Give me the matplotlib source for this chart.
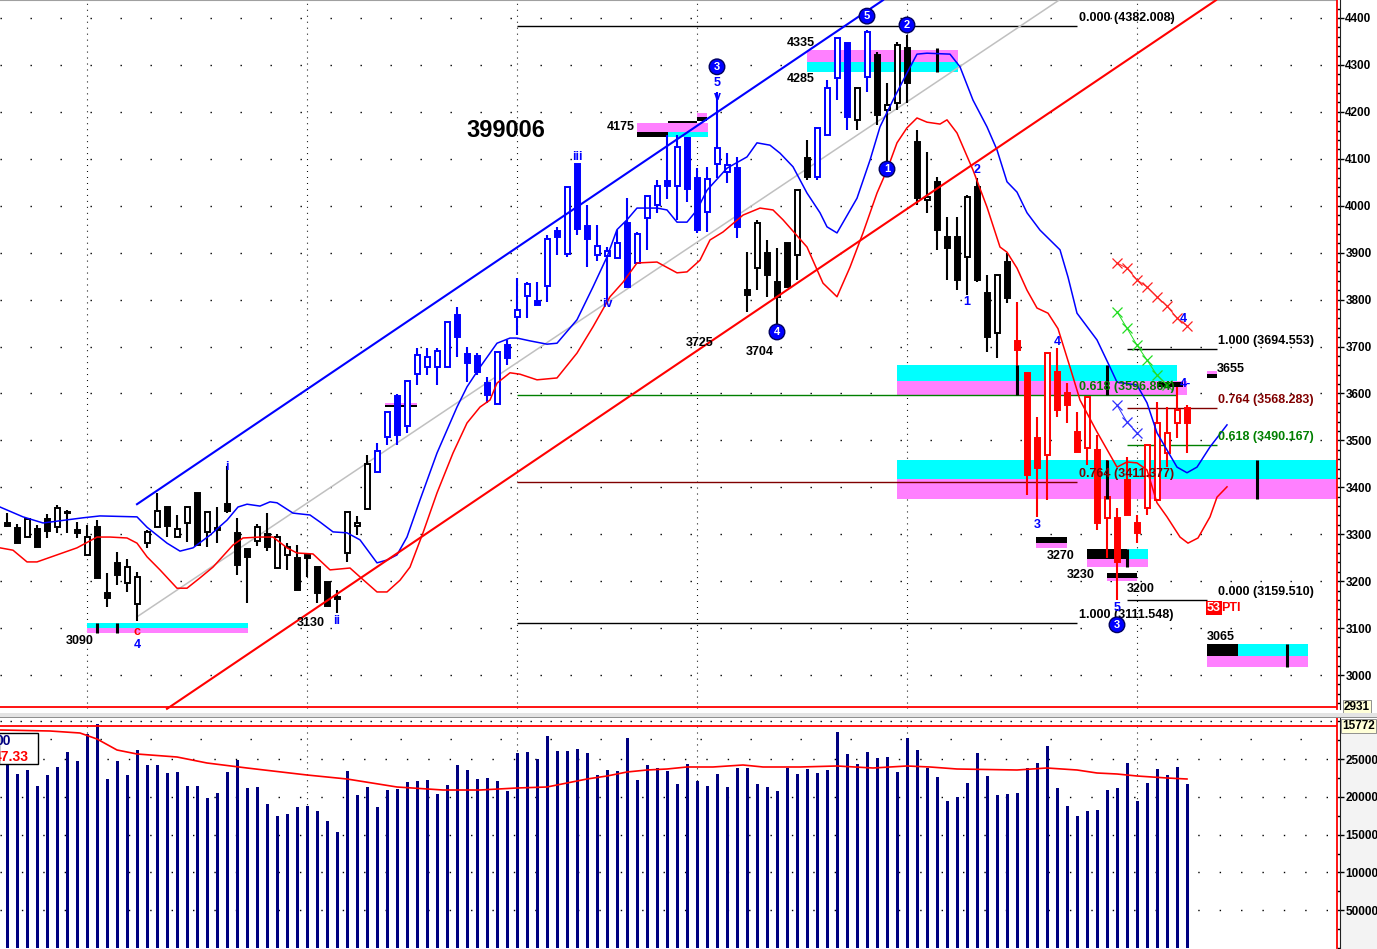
import numpy as np
import matplotlib
matplotlib.use("Agg")
import matplotlib.pyplot as plt
from matplotlib.patches import Rectangle
from matplotlib.ticker import MultipleLocator

plt.rcParams["font.family"] = ["Liberation Sans", "DejaVu Sans"]
plt.rcParams["lines.scale_dashes"] = False

# ── daily candles (399006) ───────────────────────────────────────────
opens = [
    3324, 3313, 3294, 3311, 3332, 3315, 3347, 3309, 3256, 3315,
    3175, 3239, 3196, 3151, 3281, 3315, 3358, 3294, 3324, 3388,
    3305, 3313, 3364, 3303, 3269, 3286, 3301, 3228, 3256, 3249,
    3256, 3230, 3198, 3166, 3260, 3318, 3354, 3433, 3507, 3595,
    3531, 3641, 3656, 3656, 3656, 3767, 3684, 3680, 3622, 3578,
    3703, 3763, 3808, 3797, 3829, 3946, 3897, 4089, 3957, 3895,
    3893, 3889, 3963, 3878, 3974, 4001, 4053, 4042, 4144, 4059,
    3987, 4089, 4072, 4080, 3820, 3867, 3899, 3837, 3921, 3895,
    4102, 4061, 4151, 4272, 4347, 4183, 4274, 4321, 4204, 4219,
    4336, 4136, 4012, 4051, 3933, 3933, 3891, 4040, 3814, 3729,
    3880, 3712, 3644, 3505, 3469, 3646, 3601, 3518, 3484, 3480,
    3335, 3335, 3416, 3324, 3356, 3373, 3473, 3537, 3569]
highs = [
    3345, 3322, 3332, 3320, 3343, 3362, 3352, 3326, 3320, 3330,
    3217, 3262, 3247, 3220, 3309, 3388, 3358, 3341, 3360, 3388,
    3347, 3358, 3445, 3335, 3269, 3322, 3345, 3301, 3281, 3277,
    3256, 3230, 3198, 3181, 3347, 3339, 3469, 3494, 3560, 3598,
    3629, 3697, 3697, 3697, 3752, 3784, 3699, 3686, 3635, 3688,
    3714, 3846, 3837, 3837, 3938, 3955, 4040, 4089, 4001, 3959,
    3912, 3948, 4016, 3944, 4021, 4055, 4151, 4151, 4146, 4080,
    4083, 4242, 4112, 4104, 3901, 3970, 3927, 3910, 3921, 4034,
    4140, 4166, 4268, 4357, 4347, 4251, 4374, 4328, 4262, 4349,
    4364, 4161, 4114, 4061, 3976, 3976, 4023, 4059, 3852, 3852,
    3899, 3795, 3644, 3550, 3686, 3697, 3622, 3560, 3592, 3511,
    3458, 3356, 3465, 3341, 3490, 3582, 3571, 3614, 3576]
lows = [
    3315, 3281, 3294, 3273, 3292, 3303, 3303, 3292, 3256, 3207,
    3145, 3192, 3177, 3115, 3271, 3315, 3294, 3294, 3283, 3277,
    3273, 3281, 3345, 3213, 3153, 3275, 3264, 3228, 3224, 3181,
    3209, 3153, 3147, 3132, 3241, 3298, 3354, 3433, 3490, 3490,
    3516, 3618, 3639, 3618, 3656, 3678, 3624, 3639, 3580, 3578,
    3661, 3725, 3761, 3788, 3795, 3895, 3891, 3938, 3869, 3882,
    3799, 3889, 3827, 3878, 3906, 3985, 4014, 3970, 4008, 3942,
    3944, 4059, 4048, 3931, 3774, 3820, 3806, 3745, 3827, 3842,
    4055, 4055, 4151, 4225, 4161, 4161, 4242, 4172, 4087, 4204,
    4219, 4001, 3985, 3906, 3842, 3820, 3810, 3837, 3688, 3676,
    3793, 3597, 3384, 3337, 3373, 3550, 3537, 3475, 3448, 3309,
    3249, 3160, 3341, 3281, 3341, 3373, 3443, 3505, 3473]
closes = [
    3318, 3281, 3332, 3273, 3307, 3356, 3345, 3303, 3294, 3207,
    3164, 3213, 3230, 3209, 3305, 3350, 3318, 3311, 3358, 3277,
    3347, 3309, 3350, 3234, 3252, 3315, 3273, 3294, 3273, 3181,
    3249, 3175, 3147, 3162, 3347, 3324, 3450, 3477, 3560, 3511,
    3627, 3682, 3678, 3690, 3752, 3720, 3665, 3646, 3597, 3688,
    3676, 3778, 3833, 3788, 3929, 3933, 4040, 3950, 3929, 3914,
    3904, 3921, 3827, 3940, 4021, 4042, 4042, 4125, 4036, 3948,
    4057, 4123, 4087, 3955, 3810, 3963, 3852, 3806, 3827, 4034,
    4061, 4166, 4251, 4357, 4189, 4251, 4370, 4193, 4215, 4343,
    4262, 4016, 4018, 3948, 3910, 3842, 4019, 3842, 3720, 3852,
    3803, 3693, 3426, 3441, 3686, 3565, 3575, 3475, 3592, 3324,
    3379, 3241, 3341, 3303, 3490, 3537, 3516, 3565, 3537]
candle_colors = "k" * 37 + "b" * 37 + "k" * 7 + "b" * 4 + "k" + "b" + "k" * 14 + "r" * 18

volume = [
    242070, 230170, 235460, 214290, 228840, 239430, 259270, 247360, 283080, 296310,
    223550, 247360, 228840, 261910, 242070, 242070, 231490, 232810, 214290, 214290,
    198420, 205030, 232810, 248690, 211650, 212970, 190480, 174610, 177260, 186510,
    187840, 181220, 168000, 153440, 234140, 202390, 212970, 186510, 209000, 210330,
    219580, 220910, 222230, 203710, 215620, 242070, 235460, 223550, 224880, 220910,
    207680, 257950, 259270, 250010, 280430, 260590, 260590, 263240, 257950, 228840,
    235460, 234140, 277790, 222230, 242070, 238100, 234140, 216940, 243400, 220910,
    214290, 230170, 212970, 238100, 238100, 216940, 212970, 207680, 238100, 230170,
    236780, 231490, 235460, 285720, 256620, 243400, 259270, 251330, 252650, 232810,
    277790, 261910, 238100, 226200, 194450, 199740, 218260, 257950, 227520, 202390,
    203710, 205030, 238100, 244720, 267210, 211650, 187840, 174610, 181220, 182550,
    209000, 211650, 244720, 194450, 218260, 236780, 228840, 239430, 216940]

vma_x = [-0.7, 4.3, 7.3, 9, 11, 13, 17, 20, 24, 30,
         34, 39, 43.6, 47.3, 51, 54, 56, 58, 60, 62,
         64, 66, 68, 70.6, 73.6, 75.6, 79.3, 83, 86.6, 90,
         92.3, 95, 101, 104, 107, 109, 111, 113, 116, 118]
vma_y = [288370, 287050, 284400, 276470, 261910, 256620, 252650, 244720, 238100, 228840,
         223550, 212970, 209000, 209000, 211650, 212970, 218260, 223550, 227520, 232810,
         235460, 236780, 239430, 239430, 242070, 239430, 239430, 240750, 238100, 240750,
         239430, 236780, 235460, 238100, 235460, 231490, 230170, 227520, 224880, 223550]

# upper (blue) and lower (red) envelope lines
band_up_x = [-0.7, 1.6, 3.6, 7.6, 9.3, 13, 14, 16, 17.3, 18.6,
             20.3, 22, 23.1, 24, 25.3, 26.3, 27, 28.6, 30.3, 31.3,
             32.6, 34, 35.3, 37, 38, 39, 40, 41.3, 43, 45,
             46, 47.3, 49, 50.3, 51, 52.3, 54, 55, 57, 58.6,
             60, 61, 62, 63, 65, 66, 67, 68, 69, 70,
             72, 74, 75, 76.3, 77.3, 78.6, 80, 81.3, 82, 83,
             85, 86.3, 87.3, 88.6, 90, 91, 92, 94.3, 95.3, 96.6,
             98, 99, 100, 101, 102, 103.3, 105.3, 106.1, 107, 109,
             110.3, 111, 113, 114, 115, 117, 118, 119, 120.3, 122]
band_up_y = [3358, 3337, 3324, 3335, 3339, 3337, 3315, 3281, 3264, 3271,
             3298, 3330, 3358, 3364, 3360, 3369, 3367, 3345, 3341, 3326,
             3305, 3303, 3288, 3239, 3245, 3256, 3294, 3373, 3473, 3571,
             3614, 3656, 3707, 3718, 3718, 3712, 3705, 3707, 3757, 3827,
             3891, 3949, 3970, 3995, 3995, 3991, 3965, 3965, 3991, 4033,
             4080, 4104, 4134, 4129, 4112, 4083, 4027, 3985, 3955, 3942,
             4016, 4097, 4168, 4225, 4283, 4323, 4325, 4323, 4296, 4225,
             4168, 4119, 4051, 4029, 3985, 3948, 3906, 3848, 3771, 3714,
             3656, 3624, 3618, 3580, 3516, 3443, 3431, 3443, 3486, 3533]
band_lo_x = [-0.7, 0.6, 2, 3, 5, 7, 9, 10.3, 12, 13,
             14, 15.3, 17, 18, 19.3, 20.6, 22.6, 23.6, 25.3, 26.6,
             28, 29, 30.6, 32.3, 34.3, 35.3, 37, 38, 39.3, 40.3,
             41.6, 43, 44.6, 46, 47.3, 48.3, 49, 50.3, 51.3, 53,
             55, 57, 58.6, 60.3, 61.6, 63, 65, 67, 68, 69.3,
             70.3, 71.6, 73.6, 75.3, 76.6, 77.6, 80, 81.6, 83, 84.3,
             85.6, 87, 88, 89, 90, 91, 92, 93.3, 94, 95,
             96.6, 98, 99.3, 100, 101, 102, 103, 104.1, 105.1, 106.3,
             107.3, 109, 111, 112, 113, 114, 115, 116, 117.3, 118.1,
             119.1, 120.3, 121, 122]
band_lo_y = [3271, 3266, 3241, 3241, 3256, 3271, 3294, 3294, 3292, 3281,
             3252, 3224, 3185, 3185, 3207, 3230, 3277, 3292, 3294, 3294,
             3271, 3260, 3258, 3224, 3228, 3209, 3177, 3177, 3202, 3230,
             3303, 3388, 3473, 3537, 3571, 3586, 3622, 3644, 3641, 3629,
             3633, 3686, 3742, 3806, 3837, 3878, 3880, 3857, 3859, 3884,
             3927, 3944, 3980, 3995, 3991, 3970, 3912, 3835, 3806, 3869,
             3942, 4027, 4076, 4134, 4166, 4187, 4178, 4174, 4183, 4155,
             4076, 3997, 3912, 3901, 3867, 3820, 3782, 3771, 3738, 3656,
             3586, 3518, 3443, 3454, 3452, 3437, 3367, 3337, 3294, 3281,
             3292, 3337, 3379, 3401]

# trend lines (start / end points)
blue_chan = ([13, 87.6], [3364, 4438])
red_chan = ([16, 120.9], [2928, 4438])
gray_line = ([13, 105.2], [3124, 4438])

# fibonacci levels
fib_left = [("0.000 (4382.008)", 4382.008, "black"), ("0.618 (3596.864)", 3596.864, "#008000"),
            ("0.764 (3411.377)", 3411.377, "#800000"), ("1.000 (3111.548)", 3111.548, "black")]
fib_right = [("1.000 (3694.553)", 3694.553, "black"), ("0.764 (3568.283)", 3568.283, "#800000"),
             ("0.618 (3490.167)", 3490.167, "#008000"), ("0.000 (3159.510)", 3159.510, "black")]

# x-mark projections
xs_red_x = [111, 112, 113, 114, 115, 116, 117, 118]
xs_red_y = [3878, 3867, 3842, 3827, 3806, 3786, 3761, 3744]
xs_grn_x = [111, 112, 113, 114, 115, 116]
xs_grn_y = [3774, 3739, 3703, 3671, 3639, 3618]
xs_blu_x = [111, 112, 113]
xs_blu_y = [3575, 3539, 3516]

CYAN, MAG, BLK = "#00ffff", "#ff80ff", "#000000"
zones = [
    (8, 24.1, 3111, 3100, CYAN), (8, 24.1, 3100, 3089, MAG),
    (63, 70.1, 4176, 4157, MAG), (63, 66.1, 4157, 4146, BLK), (66.1, 70.1, 4157, 4146, CYAN),
    (66.1, 69, 4181, 4176, BLK), (69, 70, 4198, 4189, MAG), (69, 70, 4189, 4181, BLK),
    (80, 95.1, 4332, 4306, MAG), (80, 95.1, 4306, 4285, CYAN),
    (89, 117, 3661, 3627, CYAN), (89, 118, 3627, 3597, MAG), (115, 117.6, 3624, 3614, BLK),
    (89, 133, 3458, 3418, CYAN), (89, 133, 3418, 3375, MAG),
    (102.9, 106, 3294, 3281, BLK), (102.9, 106, 3281, 3271, MAG),
    (108, 112, 3269, 3247, BLK), (112, 114.1, 3269, 3247, CYAN), (108, 114.1, 3247, 3230, MAG),
    (110, 113, 3217, 3207, BLK), (110, 113, 3207, 3200, MAG),
    (120, 121, 3648, 3641, MAG), (120, 121, 3641, 3633, BLK),
    (120, 123.1, 3066, 3041, BLK), (123.1, 130.1, 3066, 3041, CYAN), (120, 130.1, 3041, 3017, MAG),
    (37.8, 41, 3580, 3575, MAG), (37.8, 41, 3575, 3571, BLK),
]
zone_ticks = [(9, 3111, 3089), (11, 3111, 3089), (93, 4336, 4285), (101, 3661, 3597),
              (110, 3661, 3597), (110, 3458, 3375), (112, 3269, 3230), (125, 3458, 3375),
              (128, 3066, 3017)]

price_labels = [("3090", 7.3, 3072), ("3130", 30.4, 3111), ("3725", 69.3, 3707),
                ("3704", 75.3, 3688), ("4175", 61.4, 4168), ("4335", 79.4, 4347),
                ("4285", 79.4, 4270), ("3270", 105.4, 3254), ("3230", 107.4, 3213),
                ("3200", 113.4, 3183), ("3655", 122.4, 3652), ("3065", 121.4, 3081)]
wave_labels = [("i", 22, 3443), ("ii", 33, 3115), ("iii", 57, 4104), ("iv", 60, 3791),
               ("5", 71, 4262), ("v", 71, 4232), ("4", 13, 3064), ("1", 96, 3795),
               ("2", 97, 4076), ("3", 103, 3320), ("4", 105, 3710), ("5", 111, 3143),
               ("4", 117.6, 3759), ("4-", 117.8, 3620)]
circle_labels = [("3", 71, 4296), ("4", 77, 3731), ("1", 88, 4078), ("5", 86, 4404),
                 ("2", 90, 4385), ("3", 111, 3107)]
month_lines = [8, 30, 51, 69, 90, 113]

col_map = {"k": "#000000", "b": "#0000ff", "r": "#ff0000"}

# ── figure ────────────────────────────────────────────────────────────
fig = plt.figure(figsize=(13.77, 9.49), dpi=100)
ax = fig.add_axes([0, 240 / 949, 1337 / 1377, 709 / 949])
axv = fig.add_axes([0, 1 / 949, 1337 / 1377, 230 / 949])

for a in (ax, axv):
    a.set_xlim(-0.7, 133.0)
    for s in ("left", "top", "bottom"):
        a.spines[s].set_visible(False)
    a.spines["right"].set_color("red")
    a.spines["right"].set_linewidth(1.3)
    a.set_xticks([])
    a.yaxis.tick_right()
    a.tick_params(axis="y", which="major", length=5, width=1, pad=1, labelsize=8.5)
    a.tick_params(axis="y", which="minor", length=2, width=1)
    a.plot([1.0025, 1.0025], [0, 1], transform=a.transAxes, color="#202020",
           lw=0.8, clip_on=False)
    for m in month_lines:
        a.axvline(m, color="black", lw=0.8, ls=(0, (0.7, 3.6)), zorder=0.5)

ax.set_ylim(2927.6, 4438.35)
ax.set_yticks(range(3000, 4401, 100))
ax.set_yticklabels([str(v) for v in range(3000, 4401, 100)], fontweight="bold")
ax.yaxis.set_minor_locator(MultipleLocator(20))
for lvl in range(3000, 4401, 100):
    ax.axhline(lvl, color="black", lw=1.0, ls=(0, (1.0, 20.6)), zorder=0.5)
ax.axhline(4438, color="#a0a0a0", lw=1.5)
ax.axhline(2931, color="red", lw=1.3, zorder=5)

axv.set_ylim(0, 304240)
vt = [50000, 100000, 150000, 200000, 250000]
axv.set_yticks(vt)
axv.set_yticklabels([str(v) for v in vt], fontweight="bold")
axv.yaxis.set_minor_locator(MultipleLocator(25000))
for lvl in vt:
    axv.axhline(lvl, color="black", lw=1.0, ls=(0, (1.0, 14.4)), zorder=0.5)
axv.axhline(300160, color="black", lw=1.0, ls=(0, (1.0, 6.2)), zorder=0.5)
axv.axhline(276460, color="black", lw=1.0, ls=(0, (1.0, 35)), zorder=0.5)
axv.axhline(293660, color="red", lw=1.3, zorder=5)

# separator between the panels
fig.add_artist(Rectangle((0, 231 / 949), 1, 5 / 949, transform=fig.transFigure,
                         fc="#e4e4e4", ec="none"))
fig.add_artist(Rectangle((0, 231 / 949), 1, 1.5 / 949, transform=fig.transFigure,
                         fc="#909090", ec="none"))
fig.add_artist(Rectangle((1341 / 1377, 0), 36 / 1377, 229 / 949, transform=fig.transFigure,
                         fc="#f3f3f3", ec="none", zorder=-1))

# zones
for x0, x1, top, bot, c in zones:
    ax.add_patch(Rectangle((x0, bot), x1 - x0, top - bot, fc=c, ec="none", zorder=1))
for x, top, bot in zone_ticks:
    ax.vlines(x, bot, top, color="black", lw=2.2, zorder=3.5)

# fibonacci lines
for txt, lvl, c in fib_left:
    ax.hlines(lvl, 51, 117 if txt.startswith("0.618") else 107, color=c, lw=1.0, zorder=1.5)
    ax.text(107.2, lvl + 17, txt, color=c, fontsize=9, fontweight="bold", va="center", zorder=6)
for txt, lvl, c in fib_right:
    ax.hlines(lvl, 112, 120 if txt.startswith("0.000") else 121, color=c, lw=1.0, zorder=1.5)
    ax.text(121.1, lvl + 17, txt, color=c, fontsize=9, fontweight="bold", va="center", zorder=6)

# candles
for i in range(len(opens)):
    o, h, l, c = opens[i], highs[i], lows[i], closes[i]
    col = col_map[candle_colors[i]]
    ax.vlines(i, l, h, color=col, lw=1.5, zorder=3)
    bot = min(o, c)
    ht = max(abs(c - o), 3)
    fc = "white" if c > o else col
    ax.add_patch(Rectangle((i - 0.25, bot), 0.5, ht, fc=fc, ec=col, lw=1.4, zorder=3.1))

# lines
ax.plot(band_up_x, band_up_y, color="#0000ff", lw=1.1, zorder=4)
ax.plot(band_lo_x, band_lo_y, color="#ff0000", lw=1.1, zorder=4)
ax.plot(*blue_chan, color="#0000ff", lw=1.5, zorder=4)
ax.plot(*red_chan, color="#ff0000", lw=1.5, zorder=4, clip_on=False)
ax.plot(*gray_line, color="#c0c0c0", lw=1.1, zorder=2.5)

ax.plot(xs_red_x, xs_red_y, color="#ff2020", lw=0.7, marker="x", ms=7, mew=0.9, zorder=4)
ax.plot(xs_grn_x, xs_grn_y, color="#22dd22", lw=0.7, marker="x", ms=7, mew=0.9, zorder=4)
ax.plot(xs_blu_x, xs_blu_y, color="#3030ff", lw=0.7, marker="x", ms=7, mew=0.9, zorder=4)

# text
ax.text(49.9, 4161, "399006", fontsize=17, fontweight="bold", ha="center", va="center")
for txt, x, y in price_labels:
    ax.text(x, y, txt, fontsize=9, fontweight="bold", ha="center", va="center", zorder=6)
for txt, x, y in wave_labels:
    ax.text(x, y, txt, fontsize=9, fontweight="bold", color="#0000ff",
            ha="center", va="center", zorder=6)
ax.text(13, 3092, "c", fontsize=9, fontweight="bold", color="#ff0000",
        ha="center", va="center", zorder=6)
for txt, x, y in circle_labels:
    ax.text(x, y, txt, fontsize=8, fontweight="bold", color="white", ha="center",
            va="center", zorder=7,
            bbox=dict(boxstyle="circle,pad=0.25", fc="#0000ff", ec="#000060", lw=1))
ax.text(120, 3143, "53", fontsize=9, fontweight="bold", color="white", va="center",
        zorder=6, bbox=dict(boxstyle="square,pad=0.05", fc="#ff0000", ec="none"))
ax.text(121.4, 3143, "PTI", fontsize=9, fontweight="bold", color="#ff0000",
        va="center", zorder=6)

ytr = ax.get_yaxis_transform()
ax.text(1.005, 2931, "2931", transform=ytr, fontsize=8.5, fontweight="bold", va="center",
        clip_on=False, bbox=dict(boxstyle="square,pad=0.1", fc="#ffffd8", ec="#808080", lw=0.6))
vtr = axv.get_yaxis_transform()
axv.text(1.004, 293660, "15772", transform=vtr, fontsize=8.5, fontweight="bold", va="center",
         clip_on=False, bbox=dict(boxstyle="square,pad=0.1", fc="#ffffd8", ec="#808080", lw=0.6))

# volume
axv.bar(range(len(volume)), volume, width=0.3, color="#000080", zorder=2)
axv.plot(vma_x, vma_y, color="#ff0000", lw=1.2, zorder=3)
axv.add_patch(Rectangle((-0.8, 243400), 3.9, 41000, fc="white", ec="black", lw=1, zorder=4))
axv.text(0.4, 273820, "00", color="#000080", fontsize=10, fontweight="bold",
         ha="right", va="center", zorder=5)
axv.text(2.2, 252650, "47.33", color="#ff0000", fontsize=10, fontweight="bold",
         ha="right", va="center", zorder=5)

fig.savefig("out.png", dpi=100)
